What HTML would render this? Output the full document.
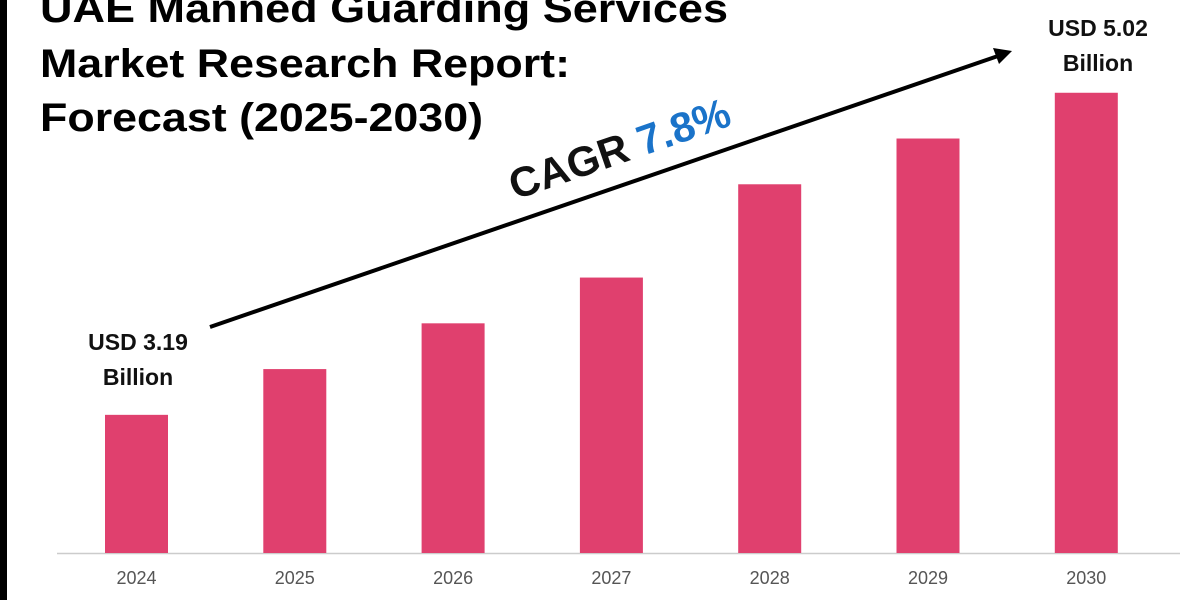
<!DOCTYPE html>
<html><head><meta charset="utf-8"><style>
body{margin:0;background:#fff;}
svg{display:block;font-family:"Liberation Sans",sans-serif;}
</style></head><body>
<svg width="1200" height="600" viewBox="0 0 1200 600">
<rect x="0" y="0" width="7" height="600" fill="#000"/>
<g font-weight="bold" font-size="40" fill="#000">
<text x="40" y="22" textLength="688" lengthAdjust="spacingAndGlyphs">UAE Manned Guarding Services</text>
<text x="40" y="77" textLength="530" lengthAdjust="spacingAndGlyphs">Market Research Report:</text>
<text x="40" y="131" textLength="443" lengthAdjust="spacingAndGlyphs">Forecast (2025-2030)</text>
</g>
<line x1="57" y1="553.5" x2="1180" y2="553.5" stroke="#ccc" stroke-width="1.5"/>
<g id="bars"></g>
<g id="xlabels"></g>
<line x1="210" y1="327" x2="998" y2="56" stroke="#000" stroke-width="4"/>
<polygon points="1012,51 993,48 999,64" fill="#000"/>
<text transform="translate(515,200) rotate(-19)" font-size="42" font-weight="bold" fill="#111">CAGR <tspan fill="#1a73c9">7.8%</tspan></text>
<g font-size="23" font-weight="bold" fill="#111" text-anchor="middle">
<text x="138" y="350">USD 3.19</text><text x="138" y="385">Billion</text></g>
<g font-size="23" font-weight="bold" fill="#111" text-anchor="middle">
<text x="1098" y="36">USD 5.02</text><text x="1098" y="71">Billion</text></g>
</svg>
<script>
const categories=["2024","2025","2026","2027","2028","2029","2030"];
const values=[3.19,3.45,3.71,3.97,4.50,4.76,5.02];
const baseY=553, v0=2.405, pxPer=176;
function y(v){return baseY-(v-v0)*pxPer;}
function xCenter(i){return 136.5+i*158.3;}
const ns="http://www.w3.org/2000/svg";
const gb=document.getElementById('bars'), gl=document.getElementById('xlabels');
categories.forEach((c,i)=>{
 const r=document.createElementNS(ns,'rect');
 r.setAttribute('x',xCenter(i)-31.5);r.setAttribute('width',63);
 r.setAttribute('y',y(values[i]));r.setAttribute('height',baseY-y(values[i]));
 r.setAttribute('fill','#e0406e');
 
 
 gb.appendChild(r);
 const t=document.createElementNS(ns,'text');
 t.setAttribute('x',xCenter(i));t.setAttribute('y',584);
 t.setAttribute('text-anchor','middle');t.setAttribute('font-size','18');t.setAttribute('fill','#555');
 t.textContent=c;
 
 
 gl.appendChild(t);
});
</script>
</body></html>
